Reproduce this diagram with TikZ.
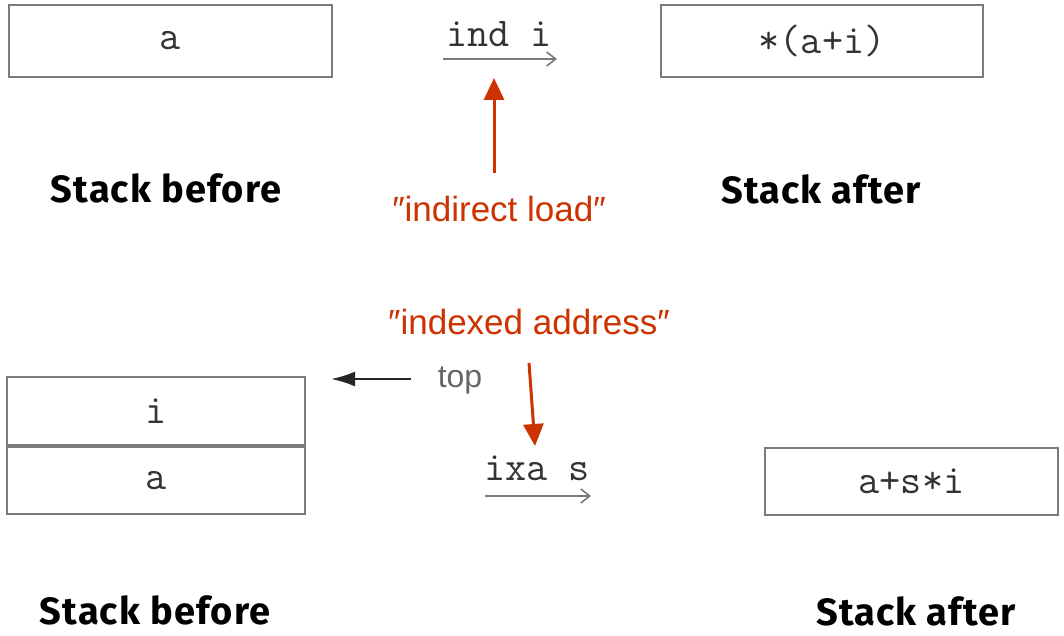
\documentclass[tikz,border=0pt]{standalone}
\usepackage{fontspec}
\setmainfont{Liberation Sans}
\newfontfamily\headf[LetterSpace=3]{Fira Sans}
\usetikzlibrary{arrows.meta}
\definecolor{redc}{HTML}{CC3300}
\definecolor{boxc}{HTML}{7A7A7A}
\definecolor{txtc}{HTML}{333333}
\tikzset{
  stackbox/.style={draw=boxc, line width=2pt, inner sep=0pt, font=\ttfamily\fontsize{41}{41}\selectfont, text=txtc},
  optext/.style={font=\ttfamily\fontsize{41}{41}\selectfont, text=txtc, inner sep=0pt},
  oparrow/.style={draw=boxc, line width=1.6pt, -{Straight Barb[length=9pt,width=14pt]}},
  redlabel/.style={font=\fontsize{35}{35}\selectfont, text=redc, inner sep=0pt},
  redarrow/.style={draw=redc, line width=3pt, -{Triangle[length=22pt,width=20pt]}},
  heading/.style={font=\headf\bfseries\fontsize{38}{38}\selectfont, inner sep=0pt},
}
\begin{document}
\begin{tikzpicture}[x=1pt,y=-1pt]
\useasboundingbox[fill=white] (0,0) rectangle (1064,636);
% top half
\node[stackbox, minimum width=323pt, minimum height=72pt] (b1) at (170.5,41) {a};
\node[stackbox, minimum width=322pt, minimum height=72pt] (b2) at (822,41) {*(a+i)};
\node[optext] (op1) at (499,34) {ind i};
\coordinate (op1s) at (443,59);
\coordinate (op1e) at (557,59);
\draw[oparrow] (op1s) -- (op1e);
\node[heading] (h1) at (166,188) {Stack before};
\node[heading] (h2) at (821,189) {Stack after};
\node[redlabel] (r1) at (499,209) {″indirect load″};
\coordinate (r1s) at (494,173);
\coordinate (r1e) at (494,78);
\draw[redarrow] (r1s) -- (r1e);
% bottom half
\node[redlabel] (r2) at (529,322) {″indexed address″};
\coordinate (r2s) at (529,363);
\coordinate (r2e) at (535,446);
\draw[redarrow] (r2s) -- (r2e);
\node[font=\fontsize{32}{32}\selectfont, text=txtc!75, inner sep=0pt] (top) at (460,380) {top};
\coordinate (tops) at (411,379);
\coordinate (tope) at (331,379);
\draw[draw=black!85, line width=2.5pt, -{Latex[length=24pt,width=15pt]}] (tops) -- (tope);
\node[stackbox, minimum width=298pt, minimum height=68pt] (si) at (156,411) {i};
\node[stackbox, minimum width=298pt, minimum height=67pt, anchor=north] (sa) at (si.south) {a};
\node[optext] (op2) at (537,468) {ixa s};
\coordinate (op2s) at (485,496);
\coordinate (op2e) at (591,496);
\draw[oparrow] (op2s) -- (op2e);
\node[stackbox, minimum width=293pt, minimum height=67pt] (b3) at (911.5,481.5) {a+s*i};
\node[heading] (h3) at (155,610) {Stack before};
\node[heading] (h4) at (916,611) {Stack after};
\end{tikzpicture}
\end{document}
